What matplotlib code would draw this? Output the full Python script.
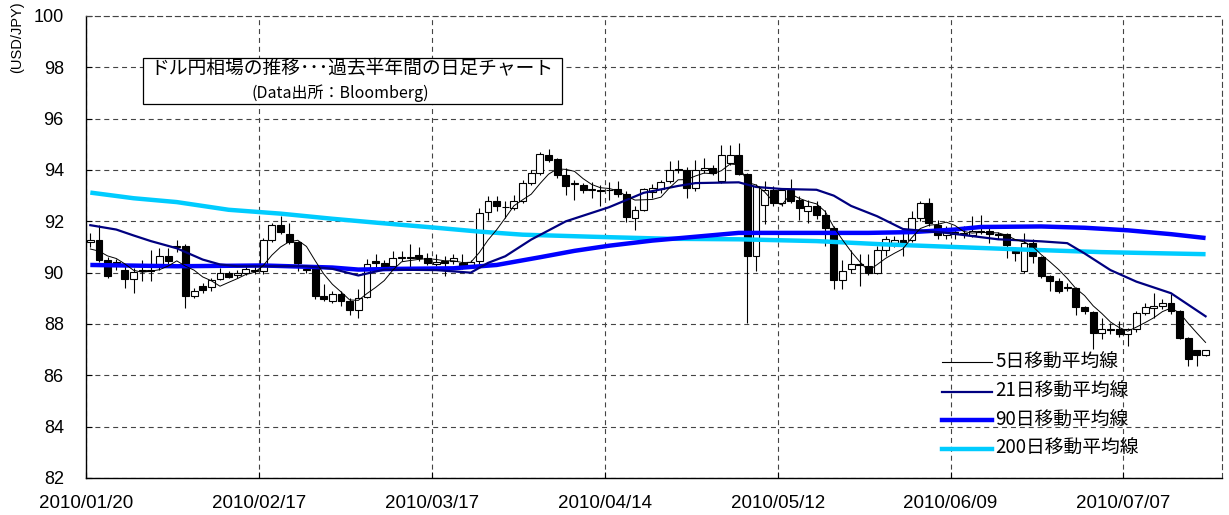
import matplotlib
matplotlib.use("Agg")
import matplotlib.pyplot as plt
from matplotlib.lines import Line2D
from matplotlib.patches import Rectangle
import numpy as np

# ---------------- data (daily OHLC, USD/JPY) ----------------
opens = [91.19, 91.29, 90.48, 90.41, 90.12, 89.74, 90.06, 90.12, 90.32, 90.64,
         91.00, 91.03, 89.11, 89.50, 89.45, 89.76, 89.97, 89.90, 90.00, 90.05,
         90.06, 91.29, 91.87, 91.49, 91.19, 90.15, 90.19, 89.11, 88.89, 89.18,
         88.89, 88.53, 89.05, 90.45, 90.36, 90.25, 90.58, 90.62, 90.67, 90.58,
         90.35, 90.45, 90.45, 90.38, 90.30, 90.45, 92.35, 92.78, 92.57, 92.52,
         92.78, 93.49, 93.88, 94.60, 94.43, 93.82, 93.45, 93.43, 93.23, 93.23,
         93.22, 93.26, 93.07, 92.13, 92.46, 93.15, 93.25, 93.56, 94.05, 94.01,
         93.30, 94.01, 94.08, 93.56, 94.27, 94.60, 93.86, 90.64, 92.65, 93.23,
         92.72, 93.23, 92.82, 92.39, 92.61, 92.26, 91.74, 89.73, 90.15, 90.32,
         90.25, 90.00, 90.90, 91.16, 91.29, 91.29, 92.13, 92.72, 91.87, 91.45,
         91.60, 91.50, 91.48, 91.61, 91.61, 91.52, 91.51, 90.84, 90.06, 91.16,
         90.62, 89.86, 89.67, 89.41, 89.41, 88.67, 88.48, 87.66, 87.82, 87.82,
         87.60, 87.79, 88.44, 88.63, 88.70, 88.80, 88.50, 87.47, 86.98, 86.81]
highs = [91.55, 91.84, 90.60, 90.55, 90.30, 90.20, 90.51, 90.90, 90.97, 90.97,
         91.29, 91.10, 89.40, 89.60, 89.80, 90.20, 90.05, 90.10, 90.25, 90.32,
         91.35, 91.95, 92.20, 91.94, 91.25, 90.20, 90.25, 89.54, 89.30, 89.30,
         89.00, 89.35, 90.54, 90.71, 90.50, 90.84, 90.84, 91.10, 91.01, 90.77,
         90.71, 90.65, 90.71, 90.71, 90.50, 92.52, 92.97, 92.97, 92.78, 93.04,
         93.62, 94.01, 94.72, 94.82, 94.47, 94.08, 93.62, 93.50, 93.52, 93.43,
         93.52, 93.56, 93.17, 92.60, 93.30, 93.45, 93.60, 94.34, 94.40, 94.10,
         94.40, 94.47, 94.20, 94.98, 94.98, 95.05, 93.90, 93.45, 93.56, 93.39,
         93.30, 93.65, 92.98, 92.85, 92.78, 92.46, 91.80, 90.51, 90.90, 90.71,
         90.71, 91.03, 91.42, 91.42, 91.55, 92.39, 92.78, 92.91, 92.07, 91.80,
         91.70, 91.81, 92.20, 92.26, 91.74, 91.60, 91.55, 91.00, 91.55, 91.30,
         90.65, 89.90, 89.80, 89.60, 89.45, 88.70, 88.50, 88.24, 88.05, 88.12,
         87.85, 88.50, 88.82, 89.22, 88.96, 89.15, 88.55, 87.50, 87.00, 87.00]
lows = [91.00, 90.40, 89.80, 90.10, 89.41, 89.22, 89.67, 89.67, 90.10, 90.30,
        90.80, 88.63, 89.00, 89.20, 89.30, 89.70, 89.80, 89.80, 89.90, 89.95,
        89.95, 91.20, 91.50, 91.10, 90.06, 89.98, 88.96, 88.90, 88.80, 88.70,
        88.37, 88.25, 89.00, 90.20, 90.15, 90.20, 90.45, 90.19, 90.45, 90.30,
        90.25, 89.86, 90.35, 90.15, 90.20, 90.35, 92.07, 92.40, 92.13, 92.46,
        92.70, 93.40, 93.80, 94.30, 93.70, 93.04, 92.85, 93.10, 92.90, 92.61,
        92.85, 92.95, 91.96, 91.68, 92.40, 92.90, 93.10, 93.50, 93.90, 92.90,
        93.20, 93.90, 93.80, 93.50, 94.20, 93.80, 88.05, 90.06, 91.90, 92.60,
        92.60, 92.70, 92.07, 91.94, 92.10, 91.03, 89.35, 89.35, 90.00, 89.50,
        89.90, 89.95, 90.64, 91.00, 90.64, 91.20, 92.00, 91.80, 91.30, 91.30,
        91.30, 91.35, 91.40, 91.50, 91.16, 91.30, 90.58, 90.45, 90.00, 90.38,
        89.80, 89.28, 89.20, 89.30, 88.37, 88.40, 87.02, 87.40, 87.60, 87.50,
        87.14, 87.70, 88.35, 88.24, 88.60, 88.40, 87.40, 86.37, 86.37, 86.75]
closes = [91.26, 90.49, 89.86, 90.35, 89.74, 90.02, 90.12, 90.06, 90.64, 90.45,
          91.03, 89.09, 89.28, 89.32, 89.70, 89.97, 89.84, 90.00, 90.15, 90.10,
          91.29, 91.87, 91.58, 91.19, 90.38, 90.09, 89.11, 88.98, 89.18, 88.89,
          88.53, 89.02, 90.32, 90.36, 90.23, 90.58, 90.62, 90.58, 90.58, 90.38,
          90.41, 90.36, 90.58, 90.25, 90.41, 92.33, 92.78, 92.59, 92.55, 92.78,
          93.49, 93.88, 94.63, 94.40, 93.82, 93.39, 93.50, 93.21, 93.25, 93.20,
          93.24, 93.07, 92.17, 92.46, 93.26, 93.30, 93.52, 94.01, 94.00, 93.30,
          94.01, 94.08, 93.88, 94.60, 94.60, 93.86, 90.64, 93.39, 93.23, 92.72,
          93.23, 92.78, 92.52, 92.61, 92.26, 91.74, 89.73, 90.06, 90.32, 90.28,
          90.00, 90.90, 91.30, 91.29, 91.16, 92.13, 92.72, 91.94, 91.45, 91.60,
          91.50, 91.55, 91.61, 91.60, 91.52, 91.48, 91.06, 90.78, 91.16, 90.64,
          89.86, 89.67, 89.28, 89.43, 88.67, 88.50, 87.66, 87.79, 87.77, 87.60,
          87.79, 88.44, 88.67, 88.70, 88.80, 88.50, 87.47, 86.65, 86.81, 86.98]
prior_closes = [90.90, 90.80, 90.85, 90.80]   # last closes before the window (for the 5-day MA)

# moving averages (trading-day index -> value)
ma21_days = [0, 3, 5, 7, 10, 13, 15, 17, 20, 25, 28, 31, 34, 40, 44, 46, 48, 51, 55,
             60, 64, 68, 70, 75, 77, 80, 84, 86, 88, 91, 94, 99, 105, 110, 113, 115,
             118, 121, 125, 129]
ma21_vals = [91.85, 91.68, 91.45, 91.23, 90.95, 90.51, 90.32, 90.25, 90.25, 90.25,
             90.15, 89.89, 90.12, 90.10, 90.00, 90.38, 90.64, 91.29, 92.00, 92.55,
             93.11, 93.38, 93.49, 93.52, 93.34, 93.26, 93.23, 93.00, 92.60, 92.20,
             91.70, 91.55, 91.30, 91.22, 91.15, 90.75, 90.10, 89.65, 89.20, 88.30]
ma90_days = [0, 10, 20, 28, 31, 36, 42, 47, 52, 56, 60, 65, 70, 75, 80, 85, 90, 95,
             100, 103, 110, 115, 120, 125, 129]
ma90_vals = [90.30, 90.25, 90.28, 90.20, 90.12, 90.15, 90.17, 90.30, 90.60, 90.85,
             91.05, 91.25, 91.40, 91.55, 91.55, 91.55, 91.55, 91.58, 91.68, 91.78,
             91.80, 91.75, 91.65, 91.50, 91.35]
ma200_days = [0, 5, 10, 16, 22, 28, 33, 40, 45, 50, 58, 67, 75, 84, 92, 100, 108, 117, 129]
ma200_vals = [93.12, 92.90, 92.75, 92.45, 92.30, 92.10, 91.95, 91.75, 91.60, 91.48,
              91.40, 91.32, 91.30, 91.23, 91.10, 91.00, 90.90, 90.80, 90.72]

tick_labels = ["2010/01/20", "2010/02/17", "2010/03/17", "2010/04/14",
               "2010/05/12", "2010/06/09", "2010/07/07"]
legend_labels = ["5日移動平均線", "21日移動平均線", "90日移動平均線", "200日移動平均線"]
title_lines = ["ドル円相場の推移･･･過去半年間の日足チャート", "(Data出所：Bloomberg)"]
y_label = "(USD/JPY)"

# ---------------- styling ----------------
FONT = ["Liberation Sans", "Noto Sans CJK JP", "DejaVu Sans"]
JFONT = ["Noto Sans CJK JP", "DejaVu Sans"]
plt.rcParams["font.family"] = FONT

W, H = 1229, 515
fig = plt.figure(figsize=(W / 100, H / 100), dpi=100)
L, R, T, B = 86, 1222, 16, 478
ax = fig.add_axes([L / W, 1 - B / H, (R - L) / W, (B - T) / H])

n = len(closes)
xs = np.arange(n) + 0.5
o = np.array(opens); c = np.array(closes)
hi = np.array(highs); lo = np.array(lows)

ax.vlines(xs, lo, hi, color="black", lw=0.8, zorder=3)
up = c >= o
bottom = np.minimum(o, c)
height = np.maximum(np.abs(c - o), 0.005)
ax.bar(xs[up], height[up], bottom=bottom[up], width=0.8, color="white",
       edgecolor="black", lw=0.8, zorder=4)
ax.bar(xs[~up], height[~up], bottom=bottom[~up], width=0.8, color="black",
       edgecolor="black", lw=0.8, zorder=4)

# moving averages
allc = np.array(prior_closes + closes)
ma5 = np.convolve(allc, np.ones(5) / 5, mode="valid")
ax.plot(np.array(ma200_days) + 0.5, ma200_vals, color="#00CCFF", lw=3.2, zorder=5,
        solid_capstyle="butt")
ax.plot(np.array(ma90_days) + 0.5, ma90_vals, color="#0000FF", lw=3.2, zorder=6,
        solid_capstyle="butt")
ax.plot(np.array(ma21_days) + 0.5, ma21_vals, color="#000080", lw=1.6, zorder=7)
ax.plot(xs, ma5, color="black", lw=0.7, zorder=8)

ax.set_xlim(0, 131.4)
ax.set_ylim(82, 100)
ax.set_yticks(np.arange(82, 101, 2))
ax.set_xticks(np.arange(0, 121, 20))
ax.set_xticklabels(tick_labels)
ax.tick_params(axis="both", direction="in", length=4, labelsize=13, colors="black")
ax.tick_params(axis="x", labelsize=13.5, pad=12)
ax.tick_params(axis="y", pad=16)

dash = (0, (4.5, 3.5))
ax.grid(True, color="#444444", lw=0.8, linestyle=dash, zorder=1)
ax.set_axisbelow(True)
for s in ["top", "right"]:
    ax.spines[s].set_linestyle(dash)
    ax.spines[s].set_color("#444444")
    ax.spines[s].set_linewidth(0.8)
for s in ["left", "bottom"]:
    ax.spines[s].set_color("black")
    ax.spines[s].set_linewidth(1.0)

def fx(px):
    return (px - L) / (R - L)

def fy(py):
    return 1 - (py - T) / (B - T)

# title box
ax.add_patch(Rectangle((fx(143), fy(104)), fx(562) - fx(143), fy(58) - fy(104),
                       transform=ax.transAxes, facecolor="white", edgecolor="black",
                       lw=0.9, zorder=9))
ax.text(fx(352), fy(68), title_lines[0], transform=ax.transAxes, ha="center",
        va="center", fontsize=13.5, family=JFONT, zorder=10)
ax.text(fx(340), fy(93), title_lines[1], transform=ax.transAxes, ha="center",
        va="center", fontsize=11.5, family=JFONT, zorder=10)

# legend
leg_styles = [("black", 0.8), ("#000080", 1.6), ("#0000FF", 3.2), ("#00CCFF", 3.2)]
leg_rows = [362, 391.5, 420, 448.5]
for lab, (col, lw), yy in zip(legend_labels, leg_styles, leg_rows):
    ax.add_line(Line2D([fx(942), fx(992)], [fy(yy), fy(yy)], color=col, lw=lw,
                       transform=ax.transAxes, zorder=10))
    ax.text(fx(995), fy(yy), lab, transform=ax.transAxes, ha="left", va="center",
            fontsize=13.5, family=JFONT, zorder=10)

fig.text(17.5 / W, 1 - 37 / H, y_label, rotation=90, ha="center", va="center",
         fontsize=10.5)

fig.savefig("out.png", dpi=100)
